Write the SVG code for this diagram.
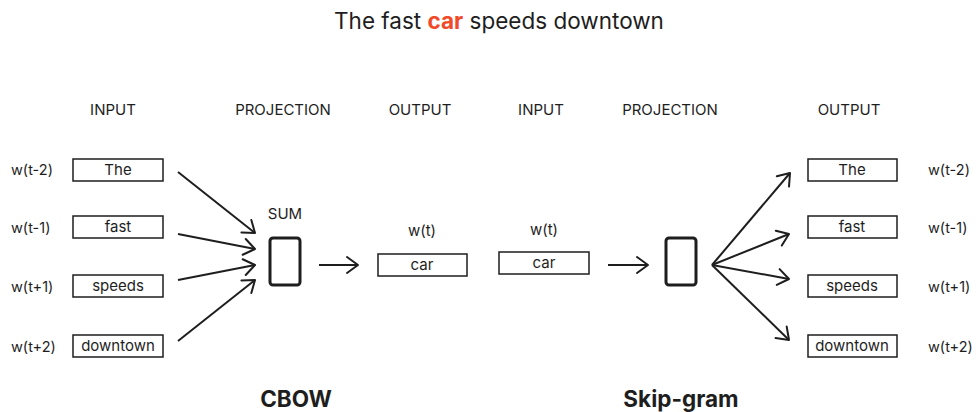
<svg xmlns="http://www.w3.org/2000/svg" width="977" height="412" viewBox="0 0 977 412">
<defs>
<style>
.t{font-family:Inter,"Liberation Sans",sans-serif;fill:#1e1e1e}
.h{font-size:15px;text-anchor:middle}
.l{font-size:14.5px}
.bx{font-size:15px;text-anchor:middle}
.box{fill:#fff;stroke:#1e1e1e;stroke-width:1.5}
.proj{fill:#fff;stroke:#1e1e1e;stroke-width:3}
.c{stroke:#1e1e1e;stroke-width:2;fill:none;marker-end:url(#ah)}
.title{font-size:22.5px;text-anchor:middle}
.big{font-size:22.5px;font-weight:700;text-anchor:middle}
</style>
<marker id="ah" markerUnits="userSpaceOnUse" markerWidth="16" markerHeight="20" refX="13" refY="10" orient="auto" viewBox="0 0 16 20">
<path d="M2,2 L13,10 L2,18" fill="none" stroke="#1e1e1e" stroke-width="2" stroke-linecap="round" stroke-linejoin="round"/>
</marker>
</defs>
<rect width="977" height="412" fill="#fff"/>
<text class="t title" x="499" y="29">The fast <tspan style="fill:#f04a2a;font-weight:700">car</tspan> speeds downtown</text>

<g id="headers">
<text class="t h" x="113" y="115">INPUT</text>
<text class="t h" x="283" y="115">PROJECTION</text>
<text class="t h" x="420" y="115">OUTPUT</text>
<text class="t h" x="541" y="115">INPUT</text>
<text class="t h" x="670" y="115">PROJECTION</text>
<text class="t h" x="849" y="115">OUTPUT</text>
</g>

<g id="cbow-in-the"><text class="t l" x="11" y="175">w(t-2)</text><rect class="box" x="73" y="159" width="90" height="22"/><text class="t bx" x="118" y="175">The</text></g>
<g id="cbow-in-fast"><text class="t l" x="11" y="233">w(t-1)</text><rect class="box" x="73" y="216" width="90" height="22"/><text class="t bx" x="118" y="232">fast</text></g>
<g id="cbow-in-speeds"><text class="t l" x="11" y="292">w(t+1)</text><rect class="box" x="73" y="275" width="90" height="22"/><text class="t bx" x="118" y="291">speeds</text></g>
<g id="cbow-in-downtown"><text class="t l" x="11" y="352">w(t+2)</text><rect class="box" x="73" y="335" width="90" height="22"/><text class="t bx" x="118" y="351">downtown</text></g>

<g id="cbow-sum"><text class="t h" x="285" y="219">SUM</text><rect class="proj" x="270" y="238" width="30" height="47" rx="3"/></g>

<g id="cbow-out-car"><text class="t h" x="422" y="236">w(t)</text><rect class="box" x="378" y="254" width="89" height="22"/><text class="t bx" x="422" y="270">car</text></g>

<g id="sg-in-car"><text class="t h" x="544" y="235">w(t)</text><rect class="box" x="499" y="252" width="90" height="22"/><text class="t bx" x="544" y="268">car</text></g>

<g id="sg-proj"><rect class="proj" x="666" y="238" width="30" height="47" rx="3"/></g>

<g id="sg-out-the"><rect class="box" x="808" y="159" width="89" height="22"/><text class="t bx" x="852" y="175">The</text><text class="t l" x="928" y="175">w(t-2)</text></g>
<g id="sg-out-fast"><rect class="box" x="808" y="216" width="89" height="22"/><text class="t bx" x="852" y="232">fast</text><text class="t l" x="928" y="233">w(t-1)</text></g>
<g id="sg-out-speeds"><rect class="box" x="808" y="275" width="89" height="22"/><text class="t bx" x="852" y="291">speeds</text><text class="t l" x="928" y="292">w(t+1)</text></g>
<g id="sg-out-downtown"><rect class="box" x="808" y="335" width="89" height="22"/><text class="t bx" x="852" y="351">downtown</text><text class="t l" x="928" y="352">w(t+2)</text></g>

<g id="connectors">
<line class="c" x1="178" y1="172" x2="255" y2="233"/>
<line class="c" x1="178" y1="234" x2="255" y2="249"/>
<line class="c" x1="178" y1="280" x2="255" y2="265"/>
<line class="c" x1="178" y1="341" x2="255" y2="280"/>
<line class="c" x1="319" y1="265" x2="358" y2="265"/>
<line class="c" x1="608" y1="265" x2="648" y2="265"/>
<line class="c" x1="712" y1="265" x2="790" y2="173"/>
<line class="c" x1="712" y1="265" x2="789" y2="234"/>
<line class="c" x1="712" y1="265" x2="789" y2="279"/>
<line class="c" x1="712" y1="265" x2="789" y2="340"/>
</g>

<text class="t big" x="296" y="407">CBOW</text>
<text class="t big" x="681" y="407">Skip-gram</text>
</svg>
